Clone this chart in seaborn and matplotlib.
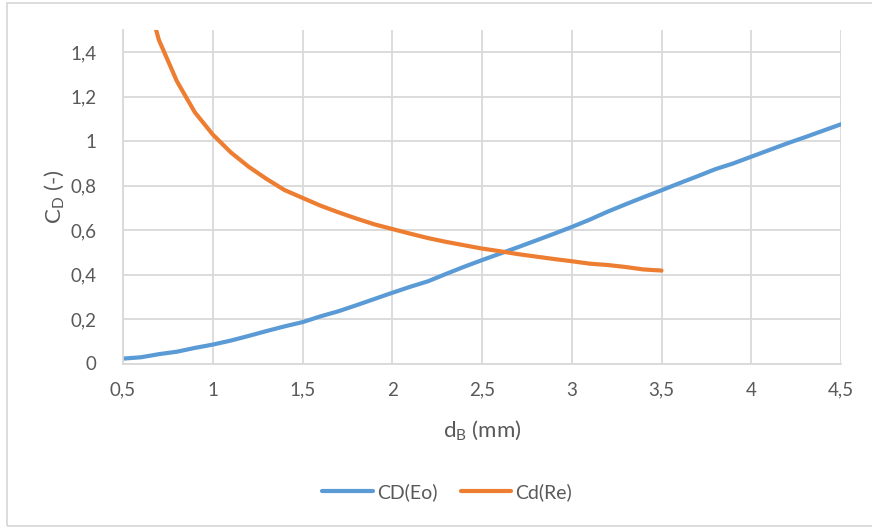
import matplotlib
matplotlib.use("Agg")
import matplotlib.pyplot as plt
import seaborn as sns
import pandas as pd
from matplotlib.lines import Line2D
from matplotlib.patches import Rectangle

# ---- data ----
d_eo = [0.5, 0.6, 0.7, 0.8, 0.9, 1.0, 1.1, 1.2, 1.3, 1.4, 1.5, 1.6, 1.7, 1.8, 1.9,
        2.0, 2.1, 2.2, 2.3, 2.4, 2.5, 2.6, 2.7, 2.8, 2.9, 3.0, 3.1, 3.2, 3.3, 3.4,
        3.5, 3.6, 3.7, 3.8, 3.9, 4.0, 4.1, 4.2, 4.3, 4.4, 4.5]
cd_eo = [0.022, 0.028, 0.042, 0.053, 0.070, 0.085, 0.103, 0.124, 0.146, 0.167,
         0.186, 0.212, 0.235, 0.262, 0.290, 0.318, 0.345, 0.370, 0.403, 0.435,
         0.465, 0.494, 0.523, 0.553, 0.583, 0.614, 0.647, 0.683, 0.716, 0.748,
         0.779, 0.811, 0.842, 0.874, 0.900, 0.930, 0.960, 0.990, 1.018, 1.047, 1.076]
d_re = [0.5, 0.6, 0.7, 0.8, 0.9, 1.0, 1.1, 1.2, 1.3, 1.4, 1.5, 1.6, 1.7, 1.8, 1.9,
        2.0, 2.1, 2.2, 2.3, 2.4, 2.5, 2.6, 2.7, 2.8, 2.9, 3.0, 3.1, 3.2, 3.3, 3.4, 3.5]
cd_re = [2.20, 1.75, 1.455, 1.27, 1.13, 1.03, 0.95, 0.885, 0.83, 0.78, 0.745,
         0.71, 0.68, 0.652, 0.626, 0.605, 0.584, 0.564, 0.547, 0.532, 0.517,
         0.505, 0.492, 0.481, 0.470, 0.460, 0.449, 0.443, 0.434, 0.423, 0.418]
series_names = ["CD(Eo)", "Cd(Re)"]
x_ticks = [0.5, 1, 1.5, 2, 2.5, 3, 3.5, 4, 4.5]
x_ticklabels = ["0,5", "1", "1,5", "2", "2,5", "3", "3,5", "4", "4,5"]
y_ticks = [0, 0.2, 0.4, 0.6, 0.8, 1.0, 1.2, 1.4]
y_ticklabels = ["0", "0,2", "0,4", "0,6", "0,8", "1", "1,2", "1,4"]
x_label = "d$_B$ (mm)"
y_label = "C$_D$ (-)"

colors = ["#5B9BD5", "#ED7D31"]
text_color = "#595959"
grid_color = "#D9D9D9"

sns.set_theme(style="white")
plt.rcParams["font.family"] = ["Lato", "DejaVu Sans"]
plt.rcParams["mathtext.default"] = "regular"

df = pd.concat([
    pd.DataFrame({"d": d_eo, "cd": cd_eo, "series": series_names[0]}),
    pd.DataFrame({"d": d_re, "cd": cd_re, "series": series_names[1]}),
], ignore_index=True)

fig = plt.figure(figsize=(8.72, 5.27), dpi=100)
ax = fig.add_axes([123 / 872, 1 - 363.5 / 527, (841 - 123) / 872, (363.5 - 30) / 527])

sns.lineplot(data=df, x="d", y="cd", hue="series", palette=colors,
             linewidth=3.0, ax=ax, legend=False, sort=False)
for ln in ax.lines:
    ln.set_solid_capstyle("round")
    ln.set_solid_joinstyle("round")

ax.set_xlim(0.5, 4.5)
ax.set_ylim(0, 1.5)
ax.set_xticks(x_ticks)
ax.set_xticklabels(x_ticklabels)
ax.set_yticks(y_ticks)
ax.set_yticklabels(y_ticklabels)
ax.tick_params(axis="both", length=0, labelsize=13.5, labelcolor=text_color)
ax.tick_params(axis="x", pad=13)
ax.tick_params(axis="y", pad=19)
ax.grid(True, color=grid_color, linewidth=1.3)
ax.set_axisbelow(True)
for s in ["top", "right"]:
    ax.spines[s].set_visible(False)
for s in ["left", "bottom"]:
    ax.spines[s].set_color(grid_color)
    ax.spines[s].set_linewidth(1.3)

ax.set_xlabel(x_label, fontsize=16, color=text_color, labelpad=14)
ax.set_ylabel(y_label, fontsize=16, color=text_color, labelpad=3)

handles = [Line2D([0], [0], color=c, linewidth=3.0, solid_capstyle="round") for c in colors]
fig.legend(handles, series_names, loc="center", bbox_to_anchor=(447 / 872, 1 - 492 / 527),
           ncol=2, frameon=False, fontsize=14, labelcolor=text_color,
           handlelength=2.6, handletextpad=0.2, columnspacing=1.2)

fig.patches.append(Rectangle((7 / 872, 1 - 526 / 527), 1.0, 523 / 527,
                             transform=fig.transFigure, fill=False,
                             edgecolor=grid_color, linewidth=1.3))

fig.savefig("out.png", dpi=100)
